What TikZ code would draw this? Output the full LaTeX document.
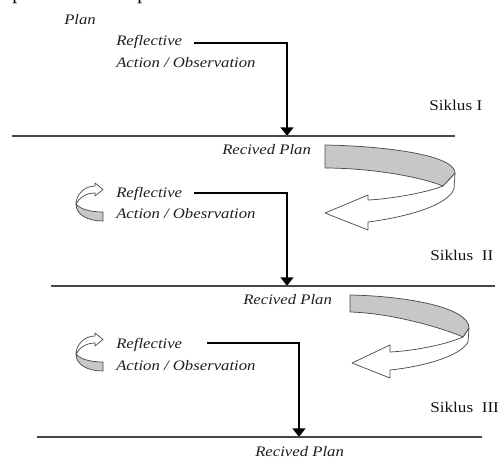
\documentclass[tikz,border=0pt]{standalone}
\usepackage{fontspec}
\setmainfont{Liberation Serif}
\newfontfamily\lbl[FakeStretch=1.15]{Liberation Serif}
\usetikzlibrary{arrows.meta}
\begin{document}
\begin{tikzpicture}[x=0.75pt,y=-0.75pt,
  lab/.style={font=\lbl\itshape\fontsize{10.9}{12}\selectfont, text=black!88, inner sep=0pt, anchor=base west},
  sik/.style={font=\lbl\fontsize{11.2}{13}\selectfont, text=black!92, inner sep=0pt, anchor=base west},
  flow/.style={line width=2pt, -{Triangle[length=6.5pt,width=9.5pt]}},
  rulerline/.style={line width=0.8pt, draw=black!72},
  ribbonline/.style={draw=black!70, line width=0.55pt, line join=round},
  ribbongray/.style={ribbonline, fill=black!22},
  ribbonwhite/.style={ribbonline, fill=white},
  frag/.style={font=\fontsize{15}{15}\selectfont, inner sep=0pt, anchor=base west}]
\useasboundingbox (0,0) rectangle (499,458);

% cut-off text fragments at the very top
\begin{scope}
  \clip (0,0) rectangle (499,458);
  \node[frag] (frag1) at (12,-0.5) {p};
  \node[frag] (frag2) at (137,-0.5) {p};
\end{scope}

% ---------------- Cycle I ----------------
\node[lab] (plan) at (64,24) {Plan};
\node[lab] (ref1) at (116,45) {Reflective};
\node[lab] (act1) at (116,67) {Action / Observation};
\coordinate (s1) at (194,43);
\coordinate (k1) at (287,43);
\coordinate (e1) at (287,136);
\draw[flow] (s1) -- (k1) -- (e1);
\node[sik] (sik1) at (429,110) {Siklus I};
\coordinate (l1a) at (12,136);
\coordinate (l1b) at (455,136);
\draw[rulerline] (l1a) -- (l1b);
\node[lab] (rp1) at (222,154) {Recived Plan};

% big ribbon arrow 1
\begin{scope}[shift={(325,145)}]
  \path[ribbonwhite] (130,28) -- (129,44) .. controls (122,62) and (75,73) .. (43,77)
     -- (43,85) -- (0,68) -- (43,50) -- (43,55)
     .. controls (65,54) and (100,48) .. (118,41) -- cycle;
  \path[ribbongray] (0,0) .. controls (60,1) and (130,10) .. (130,28)
     -- (118,41) .. controls (90,30) and (40,23) .. (0,23) -- cycle;
\end{scope}

% ---------------- Cycle II ----------------
\begin{scope}[shift={(76,183)}]
  \path[ribbonwhite] (19,3) .. controls (8,3) and (0,12) .. (0,21)
     .. controls (3,15) and (10,10) .. (19,10) -- (19,13) -- (27,6.5) -- (19,0) -- cycle;
  \path[ribbongray] (0,21) .. controls (4,26) and (14,29) .. (27,29)
     -- (27,38) .. controls (12,38) and (0,32) .. (0,21) -- cycle;
\end{scope}
\node[lab] (ref2) at (116,197) {Reflective};
\node[lab] (act2) at (116,218) {Action / Obesrvation};
\coordinate (s2) at (194,193);
\coordinate (k2) at (287,193);
\coordinate (e2) at (287,286);
\draw[flow] (s2) -- (k2) -- (e2);
\node[sik] (sik2) at (430,260) {Siklus\ \ II};
\coordinate (l2a) at (51,286);
\coordinate (l2b) at (495,286);
\draw[rulerline] (l2a) -- (l2b);
\node[lab] (rp2) at (243,304) {Recived Plan};

% big ribbon arrow 2
\begin{scope}[shift={(350,295)}]
  \path[ribbonwhite] (119,33) -- (118,47) .. controls (110,62) and (70,72) .. (40,75)
     -- (40,83) -- (2,68) -- (40,50) -- (40,57)
     .. controls (62,56) and (95,50) .. (113,42) -- cycle;
  \path[ribbongray] (0,0) .. controls (55,1) and (119,12) .. (119,33)
     -- (113,42) .. controls (90,32) and (40,18) .. (0,17) -- cycle;
\end{scope}

% ---------------- Cycle III ----------------
\begin{scope}[shift={(76,333)}]
  \path[ribbonwhite] (19,3) .. controls (8,3) and (0,12) .. (0,21)
     .. controls (3,15) and (10,10) .. (19,10) -- (19,13) -- (27,6.5) -- (19,0) -- cycle;
  \path[ribbongray] (0,21) .. controls (4,26) and (14,29) .. (27,29)
     -- (27,38) .. controls (12,38) and (0,32) .. (0,21) -- cycle;
\end{scope}
\node[lab] (ref3) at (116,348) {Reflective};
\node[lab] (act3) at (116,370) {Action / Observation};
\coordinate (s3) at (207,343);
\coordinate (k3) at (299,343);
\coordinate (e3) at (299,437);
\draw[flow] (s3) -- (k3) -- (e3);
\node[sik] (sik3) at (430,412) {Siklus\ \ III};
\coordinate (l3a) at (37,437);
\coordinate (l3b) at (482,437);
\draw[rulerline] (l3a) -- (l3b);
\node[lab] (rp3) at (255,456) {Recived Plan};
\end{tikzpicture}
\end{document}
